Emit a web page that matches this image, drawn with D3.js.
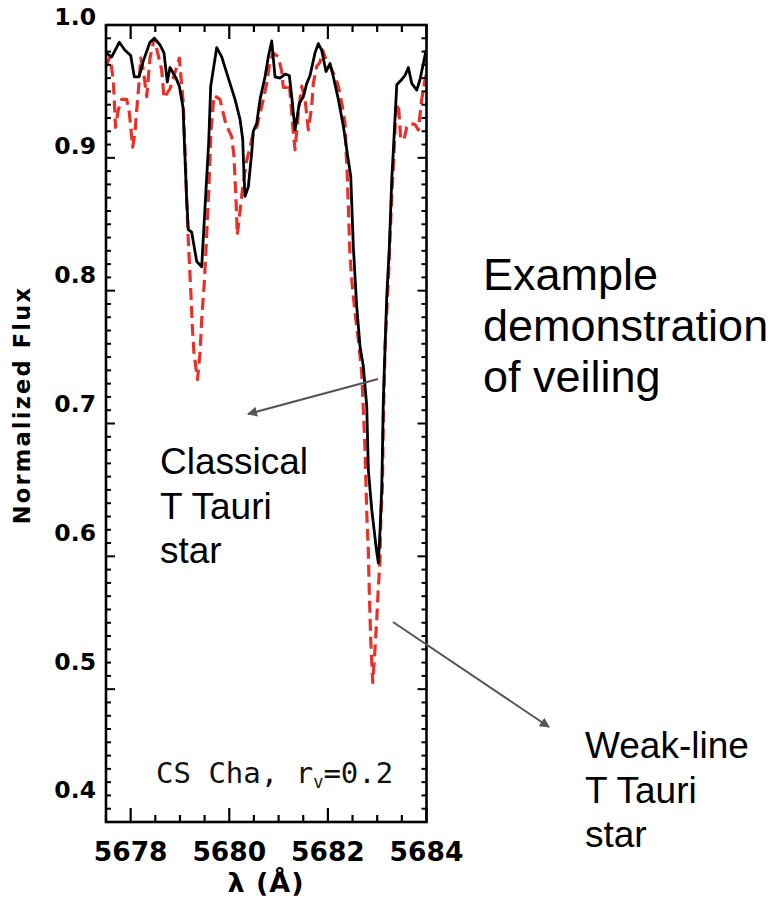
<!DOCTYPE html>
<html>
<head>
<meta charset="utf-8">
<script src="https://cdn.jsdelivr.net/npm/d3@7"></script>
<style>
  html, body { margin: 0; padding: 0; background: #fff; }
  svg { display: block; }
</style>
</head>
<body>
<svg id="chart" width="774" height="904"></svg>
<script>
// Classical T Tauri star (CS Cha) spectrum, solid black
const cttsWavelength = [5677.500,5677.616,5677.770,5677.885,5678.001,5678.074,5678.169,5678.257,5678.392,5678.480,
  5678.595,5678.676,5678.743,5678.798,5678.920,5678.987,5679.062,5679.137,5679.169,5679.238,
  5679.340,5679.441,5679.528,5679.582,5679.624,5679.746,5679.847,5679.981,5680.117,5680.218,
  5680.273,5680.299,5680.320,5680.386,5680.455,5680.488,5680.557,5680.624,5680.725,5680.792,
  5680.861,5680.928,5681.029,5681.131,5681.218,5681.267,5681.334,5681.421,5681.502,5681.571,
  5681.638,5681.739,5681.806,5681.875,5681.962,5682.044,5682.111,5682.212,5682.313,5682.415,
  5682.464,5682.516,5682.585,5682.652,5682.719,5682.788,5682.821,5682.890,5682.991,5683.024,
  5683.058,5683.093,5683.125,5683.194,5683.247,5683.295,5683.328,5683.397,5683.498,5683.565,
  5683.632,5683.701,5683.802,5683.869,5683.936,5683.991];
const cttsFlux = [0.979,0.976,0.987,0.981,0.977,0.961,0.961,0.973,0.987,0.990,
  0.985,0.979,0.957,0.968,0.960,0.954,0.938,0.868,0.846,0.844,
  0.822,0.818,0.876,0.911,0.954,0.983,0.976,0.960,0.944,0.929,
  0.914,0.886,0.871,0.878,0.904,0.920,0.926,0.944,0.961,0.976,
  0.988,0.961,0.960,0.963,0.962,0.946,0.921,0.941,0.946,0.956,
  0.962,0.979,0.986,0.981,0.965,0.971,0.961,0.944,0.924,0.898,
  0.886,0.833,0.788,0.758,0.743,0.713,0.665,0.635,0.603,0.595,
  0.620,0.652,0.718,0.796,0.833,0.883,0.906,0.955,0.959,0.962,
  0.968,0.956,0.951,0.959,0.971,0.981];

// Weak-line T Tauri star template, red dashed
const wttsWavelength = [5677.500,5677.581,5677.648,5677.693,5677.749,5677.818,5677.920,5677.973,5678.042,5678.088,
  5678.123,5678.169,5678.204,5678.257,5678.326,5678.392,5678.480,5678.630,5678.677,5678.798,
  5678.987,5679.068,5679.137,5679.169,5679.224,5679.251,5679.285,5679.356,5679.407,5679.441,
  5679.488,5679.522,5679.555,5679.583,5679.630,5679.691,5679.812,5679.934,5680.050,5680.096,
  5680.137,5680.163,5680.198,5680.279,5680.354,5680.421,5680.488,5680.557,5680.691,5680.760,
  5680.827,5680.894,5680.995,5681.064,5681.096,5681.165,5681.218,5681.299,5681.334,5681.401,
  5681.470,5681.537,5681.604,5681.672,5681.705,5681.774,5681.841,5681.896,5681.962,5682.044,
  5682.145,5682.212,5682.281,5682.348,5682.368,5682.394,5682.419,5682.449,5682.484,5682.551,
  5682.618,5682.687,5682.719,5682.754,5682.788,5682.821,5682.841,5682.869,5682.910,5682.942,
  5682.991,5683.024,5683.058,5683.072,5683.105,5683.125,5683.159,5683.226,5683.295,5683.342,
  5683.378,5683.429,5683.478,5683.545,5683.600,5683.667,5683.768,5683.835,5683.903,5683.970,
  5684.004];
const wttsFlux = [0.969,0.976,0.959,0.923,0.936,0.944,0.944,0.934,0.908,0.919,
  0.936,0.956,0.975,0.966,0.946,0.975,0.990,0.966,0.945,0.952,
  0.975,0.941,0.868,0.838,0.796,0.773,0.753,0.733,0.753,0.778,
  0.803,0.826,0.853,0.874,0.921,0.947,0.944,0.925,0.916,0.901,
  0.868,0.842,0.853,0.880,0.898,0.908,0.919,0.923,0.944,0.956,
  0.973,0.979,0.976,0.965,0.953,0.953,0.956,0.919,0.906,0.934,
  0.954,0.944,0.921,0.939,0.956,0.969,0.972,0.981,0.974,0.969,
  0.961,0.954,0.941,0.926,0.906,0.886,0.859,0.826,0.808,0.783,
  0.763,0.738,0.710,0.680,0.633,0.603,0.572,0.537,0.505,0.522,
  0.552,0.577,0.597,0.627,0.652,0.703,0.758,0.808,0.871,0.904,
  0.936,0.941,0.914,0.914,0.923,0.926,0.925,0.921,0.944,0.959,
  0.964];

// Axis ticks and labels
const xMajorTicks = [5678, 5680, 5682, 5684];
const xTickLabels = ["5678", "5680", "5682", "5684"];
const yMajorTicks = [0.4, 0.5, 0.6, 0.7, 0.8, 0.9, 1.0];
const yTickLabels = ["0.4", "0.5", "0.6", "0.7", "0.8", "0.9", "1.0"];

const svg = d3.select("#chart");
svg.append("rect").attr("width", 774).attr("height", 904).attr("fill", "#fff");

const plot = { left: 106, right: 426.5, top: 25, bottom: 822 };

const x = d3.scaleLinear().domain([5677.5, 5684.0]).range([plot.left, plot.right]);
const y = d3.scaleLinear().domain([0.4, 1.0]).range([plot.bottom, plot.top]);
// tick labels sit on a slightly tighter vertical spacing than the tick marks
const yLabel = d3.scaleLinear().domain([0.4, 1.0]).range([790, 17]);

svg.append("defs").append("clipPath").attr("id", "plotClip")
  .append("rect")
  .attr("x", plot.left).attr("y", plot.top)
  .attr("width", plot.right - plot.left).attr("height", plot.bottom - plot.top);

const line = d3.line().x(d => x(d[0])).y(d => y(d[1]));

const wtts = wttsWavelength.map((w, i) => [w, wttsFlux[i]]);
const ctts = cttsWavelength.map((w, i) => [w, cttsFlux[i]]);

const curves = svg.append("g").attr("clip-path", "url(#plotClip)");
curves.append("path").datum(wtts)
  .attr("d", line)
  .attr("fill", "none")
  .attr("stroke", "#e8312b")
  .attr("stroke-width", 3.2)
  .attr("stroke-dasharray", "12,6")
  .attr("stroke-linejoin", "round");
curves.append("path").datum(ctts)
  .attr("d", line)
  .attr("fill", "none")
  .attr("stroke", "#000")
  .attr("stroke-width", 2.8)
  .attr("stroke-linejoin", "round");

// frame
const axes = svg.append("g").attr("stroke", "#000").attr("fill", "none");
axes.append("rect")
  .attr("x", plot.left).attr("y", plot.top)
  .attr("width", plot.right - plot.left).attr("height", plot.bottom - plot.top)
  .attr("stroke-width", 2.6);

// x ticks (every 0.5 Å, major every 2 Å), on bottom and top, pointing inward
const xMinor = d3.range(5677.5, 5684.001, 0.5);
xMinor.forEach(v => {
  const major = xMajorTicks.some(m => Math.abs(m - v) < 1e-6);
  const len = major ? 14 : 7;
  const px = x(v);
  axes.append("line").attr("x1", px).attr("x2", px)
    .attr("y1", plot.bottom).attr("y2", plot.bottom - len).attr("stroke-width", 2.2);
  axes.append("line").attr("x1", px).attr("x2", px)
    .attr("y1", plot.top).attr("y2", plot.top + len).attr("stroke-width", 2.2);
});

// y ticks (every 0.01, major every 0.1) on left and right
const yMinor = d3.range(0, 61).map(i => 0.4 + i * 0.01);
yMinor.forEach(v => {
  const major = yMajorTicks.some(m => Math.abs(m - v) < 1e-6);
  const len = major ? 9 : 5;
  const py = y(v);
  axes.append("line").attr("x1", plot.left).attr("x2", plot.left + len)
    .attr("y1", py).attr("y2", py).attr("stroke-width", 2);
  axes.append("line").attr("x1", plot.right).attr("x2", plot.right - len)
    .attr("y1", py).attr("y2", py).attr("stroke-width", 2);
});

// tick labels
const tickFont = "'DejaVu Sans', sans-serif";
svg.append("g").selectAll("text").data(yMajorTicks).join("text")
  .attr("x", 96)
  .attr("y", d => yLabel(d))
  .attr("dy", "0.36em")
  .attr("text-anchor", "end")
  .attr("font-family", tickFont)
  .attr("font-weight", "bold")
  .attr("font-size", 23.5)
  .attr("fill", "#000")
  .text((d, i) => yTickLabels[i]);

svg.append("g").selectAll("text").data(xMajorTicks).join("text")
  .attr("x", d => x(d))
  .attr("y", 861)
  .attr("text-anchor", "middle")
  .attr("font-family", tickFont)
  .attr("font-weight", "bold")
  .attr("font-size", 26.5)
  .attr("fill", "#000")
  .text((d, i) => xTickLabels[i]);

// axis titles
svg.append("text")
  .attr("x", 266).attr("y", 892)
  .attr("text-anchor", "middle")
  .attr("font-family", tickFont)
  .attr("font-weight", "bold")
  .attr("font-size", 27)
  .attr("letter-spacing", 1)
  .attr("fill", "#000")
  .text("λ (Å)");

svg.append("text")
  .attr("transform", "translate(30,405) rotate(-90)")
  .attr("text-anchor", "middle")
  .attr("font-family", tickFont)
  .attr("font-weight", "bold")
  .attr("font-size", 22.5)
  .attr("letter-spacing", 2.2)
  .attr("fill", "#000")
  .text("Normalized Flux");

// in-plot label
const starLabel = svg.append("text")
  .attr("x", 156).attr("y", 783)
  .attr("font-family", "'DejaVu Sans Mono', monospace")
  .attr("font-size", 29)
  .attr("fill", "#111");
starLabel.append("tspan").text("CS Cha, r");
starLabel.append("tspan").attr("font-size", 17).attr("dy", 5).text("v");
starLabel.append("tspan").attr("dy", -5).text("=0.2");

// annotations
const noteFont = "'Liberation Sans', Arial, sans-serif";
function block(lines, x0, y0, size, lh) {
  const t = svg.append("text")
    .attr("font-family", noteFont)
    .attr("font-size", size)
    .attr("fill", "#000");
  lines.forEach((s, i) => t.append("tspan").attr("x", x0).attr("y", y0 + i * lh).text(s));
}
block(["Example", "demonstration", "of veiling"], 483, 290, 45, 51);
block(["Classical", "T Tauri", "star"], 160, 474, 37, 44.5);
block(["Weak-line", "T Tauri", "star"], 585, 758, 37, 44.5);

const defs = svg.select("defs");
defs.append("marker")
  .attr("id", "arrowHead")
  .attr("viewBox", "0 0 10 10")
  .attr("refX", 9).attr("refY", 5)
  .attr("markerWidth", 5).attr("markerHeight", 5)
  .attr("markerUnits", "strokeWidth")
  .attr("orient", "auto")
  .append("path").attr("d", "M0,0 L10,5 L0,10 z").attr("fill", "#555");

const arrows = [
  { x1: 378, y1: 379, x2: 248, y2: 414 },
  { x1: 393, y1: 622, x2: 549, y2: 727 }
];
svg.append("g").selectAll("line").data(arrows).join("line")
  .attr("x1", d => d.x1).attr("y1", d => d.y1)
  .attr("x2", d => d.x2).attr("y2", d => d.y2)
  .attr("stroke", "#555")
  .attr("stroke-width", 2)
  .attr("marker-end", "url(#arrowHead)");
</script>
</body>
</html>
